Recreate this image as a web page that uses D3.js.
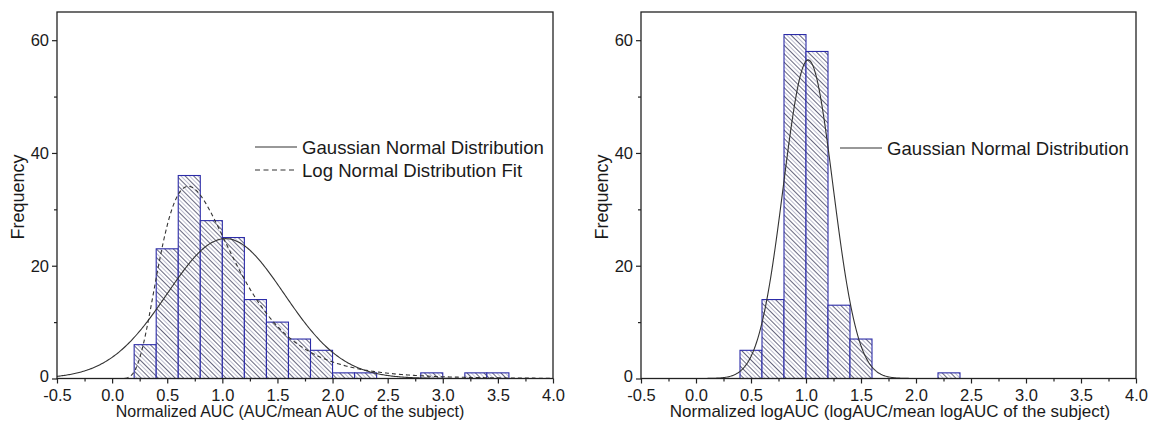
<!DOCTYPE html>
<html>
<head>
<meta charset="utf-8">
<script src="https://cdn.jsdelivr.net/npm/d3@7"></script>
<style>
  body { margin: 0; background: #fff; }
  svg text { font-family: "Liberation Sans", Arial, sans-serif; fill: #1a1a1a; }
</style>
</head>
<body>
<svg id="chart" width="1149" height="433"></svg>
<script>
// histogram bins (width 0.2)
var binWidth = 0.2;
var leftBinStart = 0.2;
var leftCounts = [6, 23, 36, 28, 25, 14, 10, 7, 5, 1, 1, 0, 0, 1, 0, 1, 1];
var rightBinStart = 0.4;
var rightCounts = [5, 14, 61, 58, 13, 7, 0, 0, 0, 1];

// fitted curves, parameters
var leftGauss = {mean: 1.03, sd: 0.53, peak: 24.8};
var leftLogNormal = {xc: 0.87, w: 0.48, area: 31.8};
var rightGauss = {mean: 1.02, sd: 0.225, peak: 56.5};

var xTicks = [-0.5, 0.0, 0.5, 1.0, 1.5, 2.0, 2.5, 3.0, 3.5, 4.0];
var yTicks = [0, 20, 40, 60];
var leftLegend = ["Gaussian Normal Distribution", "Log Normal Distribution Fit"];
var rightLegend = ["Gaussian Normal Distribution"];
var leftTitle = "Normalized AUC (AUC/mean AUC of the subject)";
var rightTitle = "Normalized logAUC (logAUC/mean logAUC of the subject)";

var svg = d3.select('#chart');

// hatch pattern: dark / light diagonal lines
var defs = svg.append('defs');
var pat = defs.append('pattern')
	.attr('id', 'hatch')
	.attr('patternUnits', 'userSpaceOnUse')
	.attr('width', 6).attr('height', 6)
	.attr('patternTransform', 'rotate(-45)');
pat.append('rect').attr('width', 6).attr('height', 6).attr('fill', '#fff');
pat.append('line').attr('x1', 0.5).attr('y1', 0).attr('x2', 0.5).attr('y2', 6)
	.attr('stroke', '#66667e').attr('stroke-width', 1);
pat.append('line').attr('x1', 3.5).attr('y1', 0).attr('x2', 3.5).attr('y2', 6)
	.attr('stroke', '#c0c0d2').attr('stroke-width', 1);

function gauss(p){
	return function(x){ return p.peak*Math.exp(-Math.pow(x-p.mean,2)/(2*p.sd*p.sd)); };
}
function logNormal(p){
	return function(x){
		if (x <= 0) return 0;
		var l = Math.log(x/p.xc);
		return p.area/(Math.sqrt(2*Math.PI)*p.w*x)*Math.exp(-l*l/(2*p.w*p.w));
	};
}

function drawPanel(cfg){
	var x = d3.scaleLinear().domain([-0.5, 4.0]).range([cfg.x0, cfg.x1]);
	var y = d3.scaleLinear().domain([0, 65]).range([cfg.bottom, cfg.top]);
	var g = svg.append('g');

	var clipId = 'clip' + cfg.id;
	defs.append('clipPath').attr('id', clipId)
		.append('rect').attr('x', cfg.x0).attr('y', cfg.top)
		.attr('width', cfg.x1-cfg.x0).attr('height', cfg.bottom-cfg.top);

	// bars
	var bins = cfg.counts.map(function(c, i){
		return {x0: cfg.binStart + i*binWidth, x1: cfg.binStart + (i+1)*binWidth, n: c};
	}).filter(function(d){ return d.n > 0; });

	g.selectAll('rect.bar').data(bins).enter().append('rect')
		.attr('class', 'bar')
		.attr('x', function(d){ return x(d.x0); })
		.attr('y', function(d){ return y(d.n); })
		.attr('width', function(d){ return x(d.x1)-x(d.x0); })
		.attr('height', function(d){ return y(0)-y(d.n); })
		.attr('fill', 'url(#hatch)')
		.attr('stroke', '#2c2ca8')
		.attr('stroke-width', 1.1);

	// curves
	var curveG = g.append('g').attr('clip-path', 'url(#' + clipId + ')');
	cfg.curves.forEach(function(c){
		var xs = d3.range(c.from, 4.0001, 0.01);
		var line = d3.line()
			.x(function(v){ return x(v); })
			.y(function(v){ return y(c.f(v)); });
		curveG.append('path')
			.datum(xs)
			.attr('d', line)
			.attr('fill', 'none')
			.attr('stroke', '#333')
			.attr('stroke-width', 1.1)
			.attr('stroke-dasharray', c.dash ? '4,3' : null);
	});

	// frame
	g.append('rect')
		.attr('x', cfg.x0).attr('y', cfg.top)
		.attr('width', cfg.x1-cfg.x0).attr('height', cfg.bottom-cfg.top)
		.attr('fill', 'none').attr('stroke', '#222').attr('stroke-width', 1.3);

	// x axis
	var fmt = function(v){ return d3.format('.1f')(v).replace('\u2212', '-'); };
	var xAxis = d3.axisBottom(x).tickValues(xTicks).tickFormat(fmt).tickSize(5).tickPadding(5.5);
	var xg = g.append('g').attr('transform', 'translate(0,' + cfg.bottom + ')').call(xAxis);
	xg.select('.domain').remove();
	var xMinor = d3.axisBottom(x).tickValues(d3.range(-0.25, 4, 0.5)).tickSize(3).tickFormat('');
	var xmg = g.append('g').attr('transform', 'translate(0,' + cfg.bottom + ')').call(xMinor);
	xmg.select('.domain').remove();

	// y axis
	var yAxis = d3.axisLeft(y).tickValues(yTicks).tickSize(5).tickPadding(3);
	var yg = g.append('g').attr('transform', 'translate(' + cfg.x0 + ',0)').call(yAxis);
	yg.select('.domain').remove();
	// keep the "0" label clear of the "-0.5" label below it
	yg.selectAll('.tick text').filter(function(d){ return d == 0; }).attr('y', -2.5);
	var yMinor = d3.axisLeft(y).tickValues([10, 30, 50]).tickSize(3).tickFormat('');
	var ymg = g.append('g').attr('transform', 'translate(' + cfg.x0 + ',0)').call(yMinor);
	ymg.select('.domain').remove();

	g.selectAll('.tick line').attr('stroke', '#222').attr('stroke-width', 1.2);
	g.selectAll('.tick text').style('font-size', '16.5px')
		.style('font-family', '"Liberation Sans", Arial, sans-serif').attr('fill', '#1a1a1a');

	// axis titles
	g.append('text')
		.attr('x', cfg.titleX).attr('y', 417)
		.attr('text-anchor', 'middle')
		.style('font-size', cfg.titleSize)
		.text(cfg.title);
	g.append('text')
		.attr('transform', 'translate(' + (cfg.x0-39) + ',197) rotate(-90)')
		.attr('text-anchor', 'middle')
		.attr('dy', '0.35em')
		.style('font-size', '18px')
		.text('Frequency');

	// legend
	cfg.legend.forEach(function(lbl, i){
		var ly = cfg.legY + i*23;
		g.append('line')
			.attr('x1', cfg.legX).attr('x2', cfg.legX+42)
			.attr('y1', ly).attr('y2', ly)
			.attr('stroke', '#333').attr('stroke-width', 1.1)
			.attr('stroke-dasharray', i == 1 ? '5,3.5' : null);
		g.append('text')
			.attr('x', cfg.legX+47).attr('y', ly)
			.attr('dy', '0.35em')
			.style('font-size', '18.6px')
			.text(lbl);
	});
}

drawPanel({
	id: 'L', x0: 57, x1: 553, top: 12, bottom: 378.5,
	binStart: leftBinStart, counts: leftCounts,
	curves: [
		{f: gauss(leftGauss), from: -0.5, dash: false},
		{f: logNormal(leftLogNormal), from: 0.05, dash: true}
	],
	title: leftTitle, titleX: 290, titleSize: '16px',
	legend: leftLegend, legX: 255, legY: 147
});

drawPanel({
	id: 'R', x0: 641, x1: 1136, top: 12, bottom: 378.5,
	binStart: rightBinStart, counts: rightCounts,
	curves: [
		{f: gauss(rightGauss), from: -0.5, dash: false}
	],
	title: rightTitle, titleX: 890, titleSize: '17px',
	legend: rightLegend, legX: 840, legY: 148
});
</script>
</body>
</html>
